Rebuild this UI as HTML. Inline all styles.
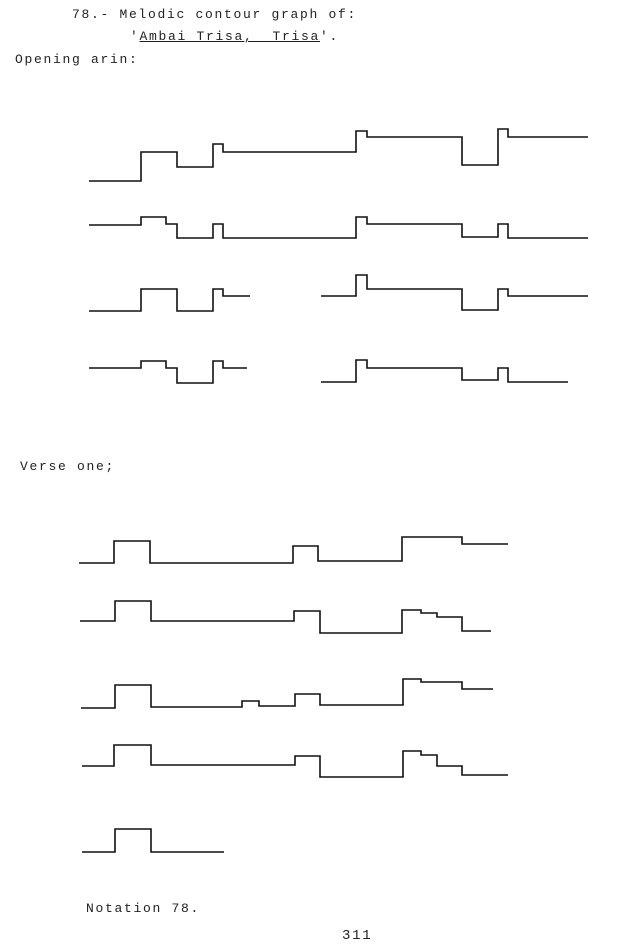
<!DOCTYPE html>
<html><head><style>
body{margin:0;background:#fff;width:623px;height:951px;overflow:hidden;position:relative}
.t{position:absolute;font-family:"Liberation Mono",monospace;font-size:13px;letter-spacing:1.7px;color:#222;white-space:pre;line-height:1}
</style></head><body>
<div class="t" style="left:72px;top:8px">78.- Melodic contour graph of:</div>
<div class="t" style="left:130px;top:30px">'<span style="text-decoration:underline">Ambai Trisa,  Trisa</span>'.</div>
<div class="t" style="left:15px;top:53px">Opening arin:</div>
<div class="t" style="left:20px;top:460px">Verse one;</div>
<div class="t" style="left:86px;top:902px">Notation 78.</div>
<div class="t" style="left:342px;top:929px;font-size:14px">311</div>
<svg width="623" height="951" style="position:absolute;left:0;top:0" fill="none" stroke="#111" stroke-width="1.6">
<path d="M89 181H141V152H177V167H213V144H223V152H356V131H367V137H462V165H498V129H508V137H588"/>
<path d="M89 225H141V217H166V224H177V238H213V224H223V238H356V217H367V224H462V237H498V224H508V238H588"/>
<path d="M89 311H141V289H177V311H213V289H223V296H250"/>
<path d="M321 296H356V275H367V289H462V310H498V289H508V296H588"/>
<path d="M89 368H141V361H166V368H177V383H213V361H223V368H247"/>
<path d="M321 382H356V360H367V368H462V380H498V368H508V382H568"/>
<path d="M79 563H114V541H150V563H293V546H318V561H402V537H462V544H508"/>
<path d="M80 621H115V601H151V621H294V611H320V633H402V610H421V613H437V617H462V631H491"/>
<path d="M81 708H115V685H151V707H242V701H259V706H295V694H320V705H403V679H421V682H462V689H493"/>
<path d="M82 766H114V745H151V765H295V756H320V777H403V751H421V755H437V766H462V775H508"/>
<path d="M82 852H115V829H151V852H224"/>
</svg>
</body></html>
